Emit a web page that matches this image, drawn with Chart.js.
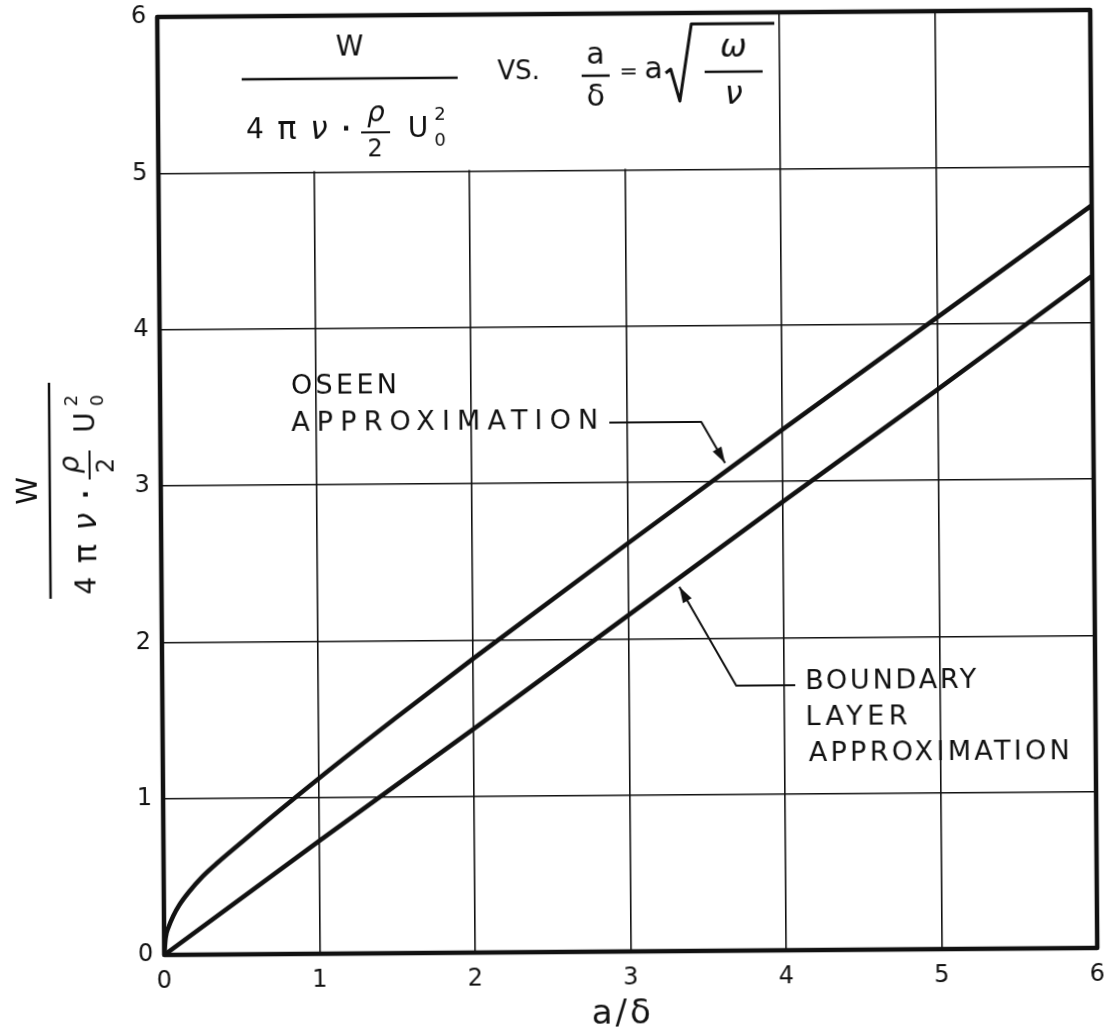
<!DOCTYPE html>
<html>
<head>
<meta charset="utf-8">
<title>Drag vs a/δ</title>
<script src="https://cdn.jsdelivr.net/npm/chart.js@4.4.1/dist/chart.umd.min.js"></script>
<style>
  html, body { margin: 0; padding: 0; background: #fff; }
  /* the plate was scanned slightly askew */
  #wrap { width: 1110px; height: 1036px; transform: rotate(-0.43deg); }
</style>
</head>
<body>
<div id="wrap"><canvas id="dragChart" width="1110" height="1036"></canvas></div>
<script>
// Oseen approximation: drag coefficient against a/delta
const oseenX = [0, 0.01, 0.03, 0.06, 0.1, 0.16, 0.25, 0.35, 0.5, 0.7, 1, 1.5, 2, 3, 4, 5, 6];
const oseenW = [0, 0.11, 0.18, 0.25, 0.32, 0.40, 0.50, 0.59, 0.715, 0.88, 1.12, 1.505, 1.88, 2.61, 3.33, 4.04, 4.75];

// boundary layer approximation
const boundaryX = [0, 1, 2, 3, 4, 5, 6];
const boundaryW = [0, 0.72, 1.43, 2.15, 2.87, 3.58, 4.3];

const xTicks = [0, 1, 2, 3, 4, 5, 6];
const yTicks = [0, 1, 2, 3, 4, 5, 6];

const INK = '#111';
const FONT = '"DejaVu Sans"';

function toPoints(xs, ys) {
    return xs.map((v, i) => ({ x: v, y: ys[i] }));
}

function line(ctx, x1, y1, x2, y2) {
    ctx.beginPath();
    ctx.moveTo(x1, y1);
    ctx.lineTo(x2, y2);
    ctx.stroke();
}

function arrowHead(ctx, fromX, fromY, tipX, tipY) {
    const ang = Math.atan2(tipY - fromY, tipX - fromX);
    const len = 16, half = 5;
    ctx.beginPath();
    ctx.moveTo(tipX, tipY);
    ctx.lineTo(tipX - len * Math.cos(ang) + half * Math.sin(ang), tipY - len * Math.sin(ang) - half * Math.cos(ang));
    ctx.lineTo(tipX - len * Math.cos(ang) - half * Math.sin(ang), tipY - len * Math.sin(ang) + half * Math.cos(ang));
    ctx.closePath();
    ctx.fill();
}

// text spread out to a given width, like stencil lettering
function spacedText(ctx, text, x, y, width) {
    ctx.letterSpacing = '0px';
    const natural = ctx.measureText(text).width;
    const gap = Math.max(0, (width - natural) / (text.length - 1));
    ctx.letterSpacing = gap + 'px';
    ctx.textAlign = 'left';
    ctx.fillText(text, x, y);
    ctx.letterSpacing = '0px';
}

// W / (4 pi nu . rho/2 U0^2), drawn around the centre of its fraction bar
function drawDragGroup(ctx, cx, cy, upright, numGap, denGap) {
    ctx.save();
    ctx.translate(cx, cy);
    if (upright) ctx.rotate(-Math.PI / 2);
    ctx.fillStyle = INK;
    ctx.strokeStyle = INK;
    ctx.textAlign = 'center';
    ctx.textBaseline = 'middle';
    ctx.lineWidth = 2.5;

    ctx.font = '28px ' + FONT;
    ctx.fillText('W', 0, -numGap);
    line(ctx, -108, 0, 108, 0);

    ctx.font = '28px ' + FONT;
    ctx.fillText('4', -95, denGap);
    ctx.font = '32px ' + FONT;
    ctx.fillText('π', -63, denGap);
    ctx.font = 'italic 31px ' + FONT;
    ctx.fillText('ν', -31, denGap);
    ctx.font = 'bold 24px ' + FONT;
    ctx.fillText('·', -4, denGap);

    ctx.font = 'italic 28px ' + FONT;
    ctx.fillText('ρ', 26, denGap - 16);
    ctx.lineWidth = 2;
    line(ctx, 11, denGap + 2, 40, denGap + 2);
    ctx.font = '24px ' + FONT;
    ctx.fillText('2', 25, denGap + 20);

    ctx.font = '28px ' + FONT;
    ctx.fillText('U', 68, denGap);
    ctx.font = '18px ' + FONT;
    ctx.fillText('2', 90, denGap - 15);
    ctx.fillText('0', 90, denGap + 11);
    ctx.restore();
}

const figurePlugin = {
    id: 'dragFigure',
    beforeDatasetsDraw(chart) {
        const { ctx, scales: { x, y } } = chart;
        // clear the grid behind the formula box (a/delta 0..4, W 5..6)
        const l = x.getPixelForValue(0), r = x.getPixelForValue(4);
        const t = y.getPixelForValue(6), b = y.getPixelForValue(5);
        ctx.save();
        ctx.fillStyle = '#fff';
        ctx.fillRect(l + 1, t + 1, r - l - 2, b - t - 2);
        ctx.restore();
    },
    afterDraw(chart) {
        const { ctx, chartArea: area, scales: { x, y } } = chart;
        ctx.save();

        // heavy frame
        ctx.strokeStyle = INK;
        ctx.lineWidth = 4.5;
        ctx.lineJoin = 'round';
        ctx.strokeRect(area.left, area.top, area.right - area.left, area.bottom - area.top);

        // formula box heading
        drawDragGroup(ctx, 353, 77, false, 30, 52);
        ctx.fillStyle = INK;
        ctx.strokeStyle = INK;
        ctx.textBaseline = 'middle';
        ctx.textAlign = 'center';
        ctx.font = '26px ' + FONT;
        ctx.fillText('VS.', 522, 72);
        ctx.font = '30px ' + FONT;
        ctx.fillText('a', 599, 56);
        ctx.lineWidth = 2.5;
        line(ctx, 585, 76, 613, 76);
        ctx.fillText('δ', 599, 98);
        ctx.font = '22px ' + FONT;
        ctx.fillText('=', 632, 73);
        ctx.font = '30px ' + FONT;
        ctx.fillText('a', 657, 71);
        // radical sign over omega / nu
        ctx.lineWidth = 3;
        ctx.beginPath();
        ctx.moveTo(669, 74);
        ctx.lineTo(674, 70);
        ctx.lineTo(683, 102);
        ctx.lineTo(695, 25);
        ctx.lineTo(778, 25);
        ctx.stroke();
        ctx.font = 'italic 32px ' + FONT;
        ctx.fillText('ω', 737, 50);
        ctx.lineWidth = 2.5;
        line(ctx, 708, 73, 766, 73);
        ctx.fillText('ν', 737, 97);

        // y axis title
        drawDragGroup(ctx, 50, 487, true, 20, 38);

        // x axis title
        ctx.font = '34px ' + FONT;
        ctx.textAlign = 'center';
        ctx.letterSpacing = '3px';
        ctx.fillText('a/δ', 619, 1015);
        ctx.letterSpacing = '0px';

        // curve labels with leaders
        ctx.font = '27px ' + FONT;
        ctx.textBaseline = 'middle';
        spacedText(ctx, 'OSEEN', 292, 385, 106);
        spacedText(ctx, 'APPROXIMATION', 292, 422, 307);
        spacedText(ctx, 'BOUNDARY', 804, 684, 171);
        spacedText(ctx, 'LAYER', 804, 720, 102);
        spacedText(ctx, 'APPROXIMATION', 807, 756, 261);

        ctx.lineWidth = 2;
        const oTipX = x.getPixelForValue(3.63), oTipY = y.getPixelForValue(3.12);
        ctx.beginPath();
        ctx.moveTo(610, 423);
        ctx.lineTo(702, 423);
        ctx.lineTo(oTipX, oTipY);
        ctx.stroke();
        arrowHead(ctx, 702, 423, oTipX, oTipY);

        const bTipX = x.getPixelForValue(3.33), bTipY = y.getPixelForValue(2.33);
        ctx.beginPath();
        ctx.moveTo(794, 687);
        ctx.lineTo(735, 687);
        ctx.lineTo(bTipX, bTipY);
        ctx.stroke();
        arrowHead(ctx, 735, 687, bTipX, bTipY);

        ctx.restore();
    }
};

const tickFont = { family: 'DejaVu Sans', size: 24 };

new Chart(document.getElementById('dragChart'), {
    type: 'scatter',
    data: {
        datasets: [
            {
                label: 'Oseen approximation',
                data: toPoints(oseenX, oseenW),
                showLine: true,
                borderColor: INK,
                borderWidth: 4.5,
                pointRadius: 0,
                cubicInterpolationMode: 'monotone',
                fill: false
            },
            {
                label: 'Boundary layer approximation',
                data: toPoints(boundaryX, boundaryW),
                showLine: true,
                borderColor: INK,
                borderWidth: 4.5,
                pointRadius: 0,
                fill: false
            }
        ]
    },
    options: {
        responsive: false,
        animation: false,
        devicePixelRatio: 1,
        layout: { padding: { left: 0, right: 16, top: 14, bottom: 0 } },
        plugins: {
            legend: { display: false },
            tooltip: { enabled: false }
        },
        scales: {
            x: {
                type: 'linear',
                min: 0,
                max: 6,
                afterFit(scale) {
                    scale.height = 84;
                    scale.paddingLeft = 0;
                    scale.paddingRight = 0;
                },
                afterBuildTicks(scale) { scale.ticks = xTicks.map(v => ({ value: v })); },
                grid: { color: INK, lineWidth: 1.6, drawTicks: false },
                border: { display: false },
                ticks: { padding: 12, color: INK, font: tickFont, maxRotation: 0 }
            },
            y: {
                type: 'linear',
                min: 0,
                max: 6,
                afterFit(scale) {
                    scale.width = 161;
                    scale.paddingTop = 0;
                    scale.paddingBottom = 0;
                },
                afterBuildTicks(scale) { scale.ticks = yTicks.map(v => ({ value: v })); },
                grid: { color: INK, lineWidth: 1.6, drawTicks: false },
                border: { display: false },
                ticks: { padding: 11, color: INK, font: tickFont }
            }
        }
    },
    plugins: [figurePlugin]
});
</script>
</body>
</html>
